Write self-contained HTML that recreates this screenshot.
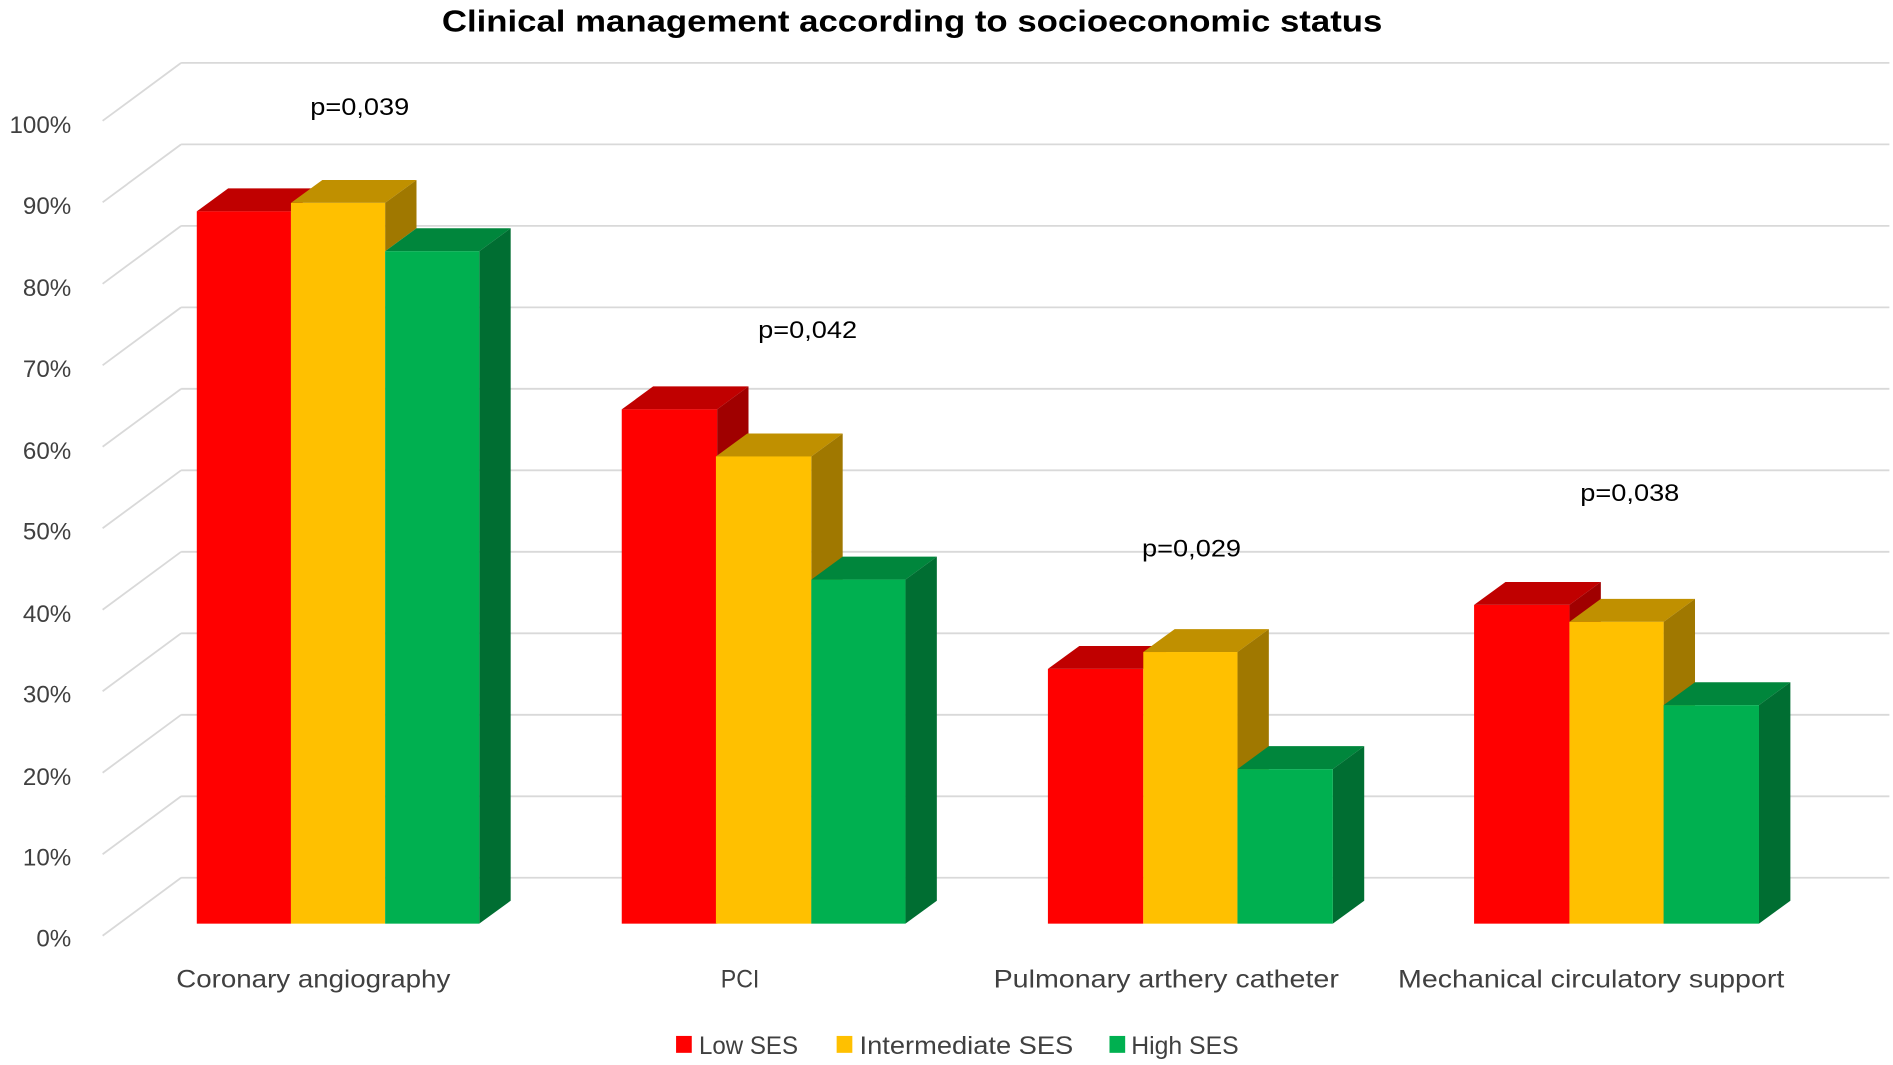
<!DOCTYPE html>
<html><head><meta charset="utf-8"><style>html,body{margin:0;padding:0;background:#fff}svg{display:block}</style></head>
<body>
<svg width="1893" height="1065" viewBox="0 0 1568 882" xmlns="http://www.w3.org/2000/svg" font-family="Liberation Sans, sans-serif">
<rect width="1568" height="882" fill="#fff"/>
<g stroke="#d9d9d9" stroke-width="1.5" fill="none">
<path d="M150 52H1565M150 52L85 100"/>
<path d="M150 119.5H1565M150 119.5L85 167.5"/>
<path d="M150 187H1565M150 187L85 235"/>
<path d="M150 254.5H1565M150 254.5L85 302.5"/>
<path d="M150 322H1565M150 322L85 370"/>
<path d="M150 389.5H1565M150 389.5L85 437.5"/>
<path d="M150 457H1565M150 457L85 505"/>
<path d="M150 524.5H1565M150 524.5L85 572.5"/>
<path d="M150 592H1565M150 592L85 640"/>
<path d="M150 659.5H1565M150 659.5L85 707.5"/>
<path d="M150 727H1565M150 727L85 775"/>
</g>
<g font-size="20" fill="#404040" text-anchor="end">
<text x="59" y="110">100%</text><text x="59" y="177">90%</text><text x="59" y="245">80%</text><text x="59" y="312">70%</text><text x="59" y="380">60%</text><text x="59" y="447">50%</text><text x="59" y="515">40%</text><text x="59" y="582">30%</text><text x="59" y="650">20%</text><text x="59" y="717">10%</text><text x="59" y="784">0%</text>
</g>
<g>
<polygon points="163,175 189,156 267,156 241,175" fill="#c00000"/>
<rect x="163" y="175" width="78" height="590" fill="#ff0000"/>
<polygon points="241,168 267,149 345,149 319,168" fill="#c09000"/>
<polygon points="319,168 345,149 345,189 319,208" fill="#a07800"/>
<rect x="241" y="168" width="78" height="597" fill="#ffc000"/>
<polygon points="319,208 345,189 423,189 397,208" fill="#00863c"/>
<polygon points="397,208 423,189 423,746 397,765" fill="#006e32"/>
<rect x="319" y="208" width="78" height="557" fill="#00b050"/>
<polygon points="515,339 541,320 620,320 594,339" fill="#c00000"/>
<polygon points="594,339 620,320 620,746 594,765" fill="#a00000"/>
<rect x="515" y="339" width="79" height="426" fill="#ff0000"/>
<polygon points="593,378 619,359 698,359 672,378" fill="#c09000"/>
<polygon points="672,378 698,359 698,746 672,765" fill="#a07800"/>
<rect x="593" y="378" width="79" height="387" fill="#ffc000"/>
<polygon points="672,480 698,461 776,461 750,480" fill="#00863c"/>
<polygon points="750,480 776,461 776,746 750,765" fill="#006e32"/>
<rect x="672" y="480" width="78" height="285" fill="#00b050"/>
<polygon points="868,554 894,535 973,535 947,554" fill="#c00000"/>
<rect x="868" y="554" width="79" height="211" fill="#ff0000"/>
<polygon points="947,540 973,521 1051,521 1025,540" fill="#c09000"/>
<polygon points="1025,540 1051,521 1051,746 1025,765" fill="#a07800"/>
<rect x="947" y="540" width="78" height="225" fill="#ffc000"/>
<polygon points="1025,637 1051,618 1130,618 1104,637" fill="#00863c"/>
<polygon points="1104,637 1130,618 1130,746 1104,765" fill="#006e32"/>
<rect x="1025" y="637" width="79" height="128" fill="#00b050"/>
<polygon points="1221,501 1247,482 1326,482 1300,501" fill="#c00000"/>
<polygon points="1300,501 1326,482 1326,746 1300,765" fill="#a00000"/>
<rect x="1221" y="501" width="79" height="264" fill="#ff0000"/>
<polygon points="1300,515 1326,496 1404,496 1378,515" fill="#c09000"/>
<polygon points="1378,515 1404,496 1404,746 1378,765" fill="#a07800"/>
<rect x="1300" y="515" width="78" height="250" fill="#ffc000"/>
<polygon points="1378,584 1404,565 1483,565 1457,584" fill="#00863c"/>
<polygon points="1457,584 1483,565 1483,746 1457,765" fill="#006e32"/>
<rect x="1378" y="584" width="79" height="181" fill="#00b050"/>
</g>
<g font-size="20" fill="#000" lengthAdjust="spacingAndGlyphs">
<text x="257" y="95" textLength="82" lengthAdjust="spacingAndGlyphs">p=0,039</text>
<text x="628" y="280" textLength="82" lengthAdjust="spacingAndGlyphs">p=0,042</text>
<text x="946" y="461" textLength="82" lengthAdjust="spacingAndGlyphs">p=0,029</text>
<text x="1309" y="415" textLength="82" lengthAdjust="spacingAndGlyphs">p=0,038</text>
</g>
<g font-size="21" fill="#404040">
<text x="146" y="818" textLength="227" lengthAdjust="spacingAndGlyphs">Coronary angiography</text>
<text x="597" y="818" textLength="32" lengthAdjust="spacingAndGlyphs">PCI</text>
<text x="823" y="818" textLength="286" lengthAdjust="spacingAndGlyphs">Pulmonary arthery catheter</text>
<text x="1158" y="818" textLength="320" lengthAdjust="spacingAndGlyphs">Mechanical circulatory support</text>
</g>
<text x="366" y="26" font-size="25" font-weight="bold" fill="#000" textLength="779" lengthAdjust="spacingAndGlyphs">Clinical management according to socioeconomic status</text>
<g font-size="21" fill="#404040">
<rect x="560" y="858" width="13" height="14" fill="#ff0000"/><text x="579" y="873" textLength="82" lengthAdjust="spacingAndGlyphs">Low SES</text>
<rect x="693" y="858" width="13" height="14" fill="#ffc000"/><text x="712" y="873" textLength="177" lengthAdjust="spacingAndGlyphs">Intermediate SES</text>
<rect x="919" y="858" width="13" height="14" fill="#00b050"/><text x="937" y="873" textLength="89" lengthAdjust="spacingAndGlyphs">High SES</text>
</g>
</svg>
</body></html>
